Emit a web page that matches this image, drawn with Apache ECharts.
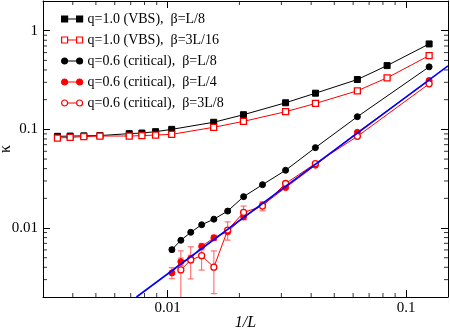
<!DOCTYPE html>
<html>
<head>
<meta charset="utf-8">
<script src="https://cdn.jsdelivr.net/npm/echarts@6/dist/echarts.min.js"></script>
<style>
  html, body { margin: 0; background: #fff; }
  #chart { width: 450px; height: 328px; }
</style>
</head>
<body>
<div id="chart"></div>
<script>
// 1/L values and kappa
const vbsX = [0.00345, 0.0039, 0.00445, 0.0052, 0.0069, 0.0078, 0.0089, 0.0104, 0.0156, 0.0208, 0.03125, 0.0417, 0.0625, 0.0833, 0.125]
const vbsL8 = [0.0850, 0.0855, 0.0860, 0.0865, 0.0905, 0.0918, 0.0948, 0.100, 0.118, 0.1408, 0.186, 0.2326, 0.320, 0.443, 0.734]
const vbs3L16 = [0.0817, 0.0830, 0.0844, 0.0856, 0.0856, 0.0864, 0.0876, 0.0890, 0.105, 0.1205, 0.151, 0.183, 0.246, 0.333, 0.559]

const critX = [0.01042, 0.01136, 0.0125, 0.01389, 0.01563, 0.01786, 0.02083, 0.025, 0.03125, 0.04167, 0.0625, 0.125]
const critL8 = [0.00604, 0.00751, 0.00905, 0.0108, 0.0123, 0.01485, 0.0208, 0.0275, 0.0385, 0.0653, 0.1344, 0.43]
const critL8Err = [0.0003, 0, 0, 0, 0, 0, 0, 0, 0, 0, 0, 0]
const critL4 = [0.00351, 0.00456, 0.0049, 0.0065, 0.00796, 0.0092, 0.0130, 0.0171, 0.0257, 0.0433, 0.0933, 0.3126]
const critL4Err = [0.00045, 0.0004, 0.0004, 0.0005, 0.0005, 0.0005, 0.0008, 0, 0, 0, 0, 0]

const crit3L8X = [0.01136, 0.0125, 0.01389, 0.01563, 0.01786, 0.02083, 0.025, 0.03125, 0.04167, 0.0625, 0.125]
const crit3L8 = [0.003765, 0.00475, 0.00525, 0.00401, 0.00954, 0.0144, 0.01668, 0.02828, 0.045, 0.085, 0.2894]
const crit3L8Err = [0.0021, 0.0017, 0.0015, 0.00185, 0.002, 0.0023, 0.00175, 0.0008, 0, 0, 0]

// fitted power law, drawn between two end points
const fitX = [0.0074, 0.15]
const fitY = [0.002, 0.44]

const xRange = [0.003, 0.15]
const yRange = [0.002, 2]
const xTicks = [0.01, 0.1]
const yTicks = [0.01, 0.1, 1]
const xMinor = [0.004, 0.005, 0.006, 0.007, 0.008, 0.009, 0.02, 0.03, 0.04, 0.05, 0.06, 0.07, 0.08, 0.09]
const yMinor = [0.003, 0.004, 0.005, 0.006, 0.007, 0.008, 0.009, 0.02, 0.03, 0.04, 0.05, 0.06, 0.07, 0.08, 0.09,
  0.2, 0.3, 0.4, 0.5, 0.6, 0.7, 0.8, 0.9]

const names = [
  'q=1.0 (VBS),  β=L/8',
  'q=1.0 (VBS),  β=3L/16',
  'q=0.6 (critical),  β=L/8',
  'q=0.6 (critical),  β=L/4',
  'q=0.6 (critical),  β=3L/8'
]

const FONT = 'Liberation Serif'
const sqIcon = 'path://M0,0h6v6h-6z M15,0h6v6h-6z M6,3L15,3'
const ciIcon = 'path://M0,3a3,3 0 1,0 6,0a3,3 0 1,0 -6,0z M15,3a3,3 0 1,0 6,0a3,3 0 1,0 -6,0z M6,3L15,3'

const zip = (xs, ys) => xs.map((x, i) => [x, ys[i]])
const zip3 = (xs, ys, es) => xs.map((x, i) => [x, ys[i], es[i]])

const renderErrorBar = (params, api) => {
  const x = api.value(0)
  const y = api.value(1)
  const e = api.value(2)
  if (!e) return
  const hi = api.coord([x, y + e])
  const lo = api.coord([x, y - e])
  const w = 3
  const style = { stroke: '#ff5a5a', lineWidth: 1 }
  return {
    type: 'group',
    children: [
      { type: 'line', shape: { x1: hi[0], y1: hi[1], x2: lo[0], y2: lo[1] }, style },
      { type: 'line', shape: { x1: hi[0] - w, y1: hi[1], x2: hi[0] + w, y2: hi[1] }, style },
      { type: 'line', shape: { x1: lo[0] - w, y1: lo[1], x2: lo[0] + w, y2: lo[1] }, style }
    ]
  }
}

const isDecade = (v, list) => list.some(t => Math.abs(Math.log10(v) - Math.log10(t)) < 1e-6)

const baseAxis = {
  type: 'log',
  logBase: 10,
  nameMoveOverlap: false,
  axisLine: { show: true, onZero: false, lineStyle: { color: '#000', width: 1 } },
  axisTick: { show: true, inside: true, length: 7, lineStyle: { color: '#000', width: 1 } },
  minorTick: { show: false },
  splitLine: { show: false }
}

const tickSeries = (data, offset, size) => ({
  type: 'scatter',
  silent: true,
  clip: false,
  symbol: 'rect',
  symbolSize: size,
  symbolOffset: offset,
  itemStyle: { color: '#000' },
  z: 5,
  data
})

const lineSeries = (name, data, symbol, filled, color) => ({
  name,
  type: 'line',
  data,
  symbol,
  symbolSize: 6,
  showAllSymbol: true,
  lineStyle: { color, width: 1 },
  itemStyle: { color: filled ? color : '#fff', borderColor: color, borderWidth: filled ? 1 : 1.3 },
  emphasis: { disabled: true },
  z: 3
})

const chart = echarts.init(document.getElementById('chart'), null, { renderer: 'canvas' })

chart.setOption({
  animation: false,
  backgroundColor: '#fff',
  grid: { left: 43, right: 2, top: 1, bottom: 31, outerBoundsMode: 'none' },
  legend: {
    orient: 'vertical',
    left: 61,
    top: 12,
    padding: 0,
    itemGap: 7,
    itemWidth: 21,
    itemHeight: 6,
    selectedMode: false,
    itemStyle: { borderWidth: 1.2 },
    textStyle: { fontFamily: FONT, fontSize: 14, color: '#000', lineHeight: 14 },
    data: [
      { name: names[0], icon: sqIcon },
      { name: names[1], icon: sqIcon },
      { name: names[2], icon: ciIcon },
      { name: names[3], icon: ciIcon },
      { name: names[4], icon: ciIcon }
    ]
  },
  xAxis: [
    Object.assign({}, baseAxis, {
      position: 'bottom',
      min: xRange[0],
      max: xRange[1],
      name: '1/L',
      nameLocation: 'middle',
      nameGap: 18,
      nameTextStyle: { fontFamily: FONT, fontSize: 16, fontStyle: 'italic', color: '#000' },
      axisLabel: {
        margin: 4,
        fontFamily: FONT,
        fontSize: 15,
        color: '#000',
        formatter: v => (isDecade(v, xTicks) ? String(+v.toPrecision(3)) : '')
      }
    }),
    Object.assign({}, baseAxis, {
      position: 'top',
      min: xRange[0],
      max: xRange[1],
      axisLabel: { show: false }
    })
  ],
  yAxis: [
    Object.assign({}, baseAxis, {
      position: 'left',
      min: yRange[0],
      max: yRange[1],
      name: 'κ',
      nameLocation: 'middle',
      nameGap: 29,
      nameRotate: 90,
      nameTextStyle: { fontFamily: FONT, fontSize: 16, color: '#000' },
      axisLabel: {
        margin: 5,
        fontFamily: FONT,
        fontSize: 15,
        color: '#000',
        formatter: v => (isDecade(v, yTicks) ? String(+v.toPrecision(3)) : '')
      }
    }),
    Object.assign({}, baseAxis, {
      position: 'right',
      min: yRange[0],
      max: yRange[1],
      axisLabel: { show: false }
    })
  ],
  series: [
    {
      type: 'custom',
      renderItem: renderErrorBar,
      clip: true,
      silent: true,
      z: 2,
      data: zip3(critX, critL8, critL8Err)
    },
    {
      type: 'custom',
      renderItem: renderErrorBar,
      clip: true,
      silent: true,
      z: 2,
      data: zip3(critX, critL4, critL4Err)
    },
    {
      type: 'custom',
      renderItem: renderErrorBar,
      clip: true,
      silent: true,
      z: 2,
      data: zip3(crit3L8X, crit3L8, crit3L8Err)
    },
    lineSeries(names[0], zip(vbsX, vbsL8), 'rect', true, '#000'),
    lineSeries(names[1], zip(vbsX, vbs3L16), 'rect', false, '#ff0000'),
    lineSeries(names[2], zip(critX, critL8), 'circle', true, '#000'),
    lineSeries(names[3], zip(critX, critL4), 'circle', true, '#ff0000'),
    lineSeries(names[4], zip(crit3L8X, crit3L8), 'circle', false, '#ff0000'),
    {
      type: 'line',
      data: zip(fitX, fitY),
      symbol: 'none',
      lineStyle: { color: '#0000ff', width: 1.6 },
      emphasis: { disabled: true },
      silent: true,
      z: 4
    },
    tickSeries(xMinor.map(v => [v, yRange[0]]), [0, -2], [1, 4]),
    Object.assign(tickSeries(xMinor.map(v => [v, yRange[1]]), [0, 2], [1, 4]), { xAxisIndex: 1, yAxisIndex: 1 }),
    tickSeries(yMinor.map(v => [xRange[0], v]), [2, 0], [4, 1]),
    Object.assign(tickSeries(yMinor.map(v => [xRange[1], v]), [-2, 0], [4, 1]), { xAxisIndex: 1, yAxisIndex: 1 })
  ]
})
</script>
</body>
</html>
